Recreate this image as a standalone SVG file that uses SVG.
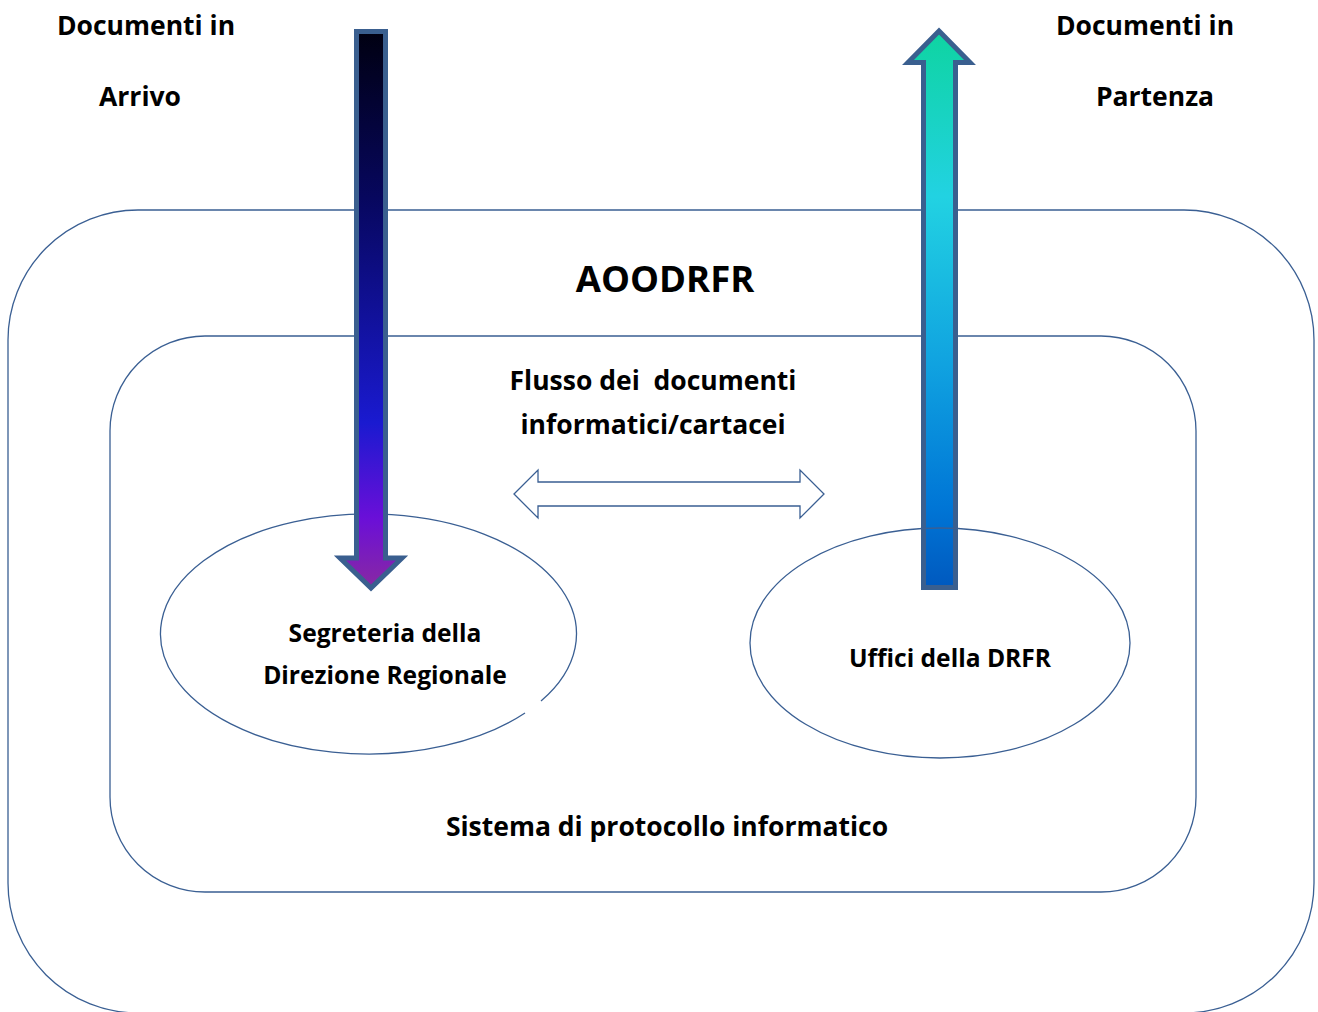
<svg xmlns="http://www.w3.org/2000/svg" width="1318" height="1012" viewBox="0 0 1318 1012">
<style>
.ln{fill:none;stroke:#3A5F93;stroke-width:1.3}
.arw{stroke:#3A5F8F;stroke-width:5;stroke-linejoin:miter}
text{font-family:"Open Sans","DejaVu Sans",sans-serif;font-weight:bold;fill:#000;text-anchor:middle;white-space:pre}
.t{font-size:26.5px}
.s{font-size:24.6px}
.big{font-size:36.5px}
</style>
<defs>
<linearGradient id="gDown" x1="0" y1="29" x2="0" y2="591" gradientUnits="userSpaceOnUse">
<stop offset="0" stop-color="#000010"/>
<stop offset="0.3" stop-color="#07075e"/>
<stop offset="0.7" stop-color="#1a1ad0"/>
<stop offset="0.87" stop-color="#6a0fd8"/>
<stop offset="1" stop-color="#8a2aa0"/>
</linearGradient>
<linearGradient id="gUp" x1="0" y1="28" x2="0" y2="590" gradientUnits="userSpaceOnUse">
<stop offset="0" stop-color="#0ed4a0"/>
<stop offset="0.3" stop-color="#22d2e2"/>
<stop offset="0.6" stop-color="#10a2e0"/>
<stop offset="0.85" stop-color="#0076d6"/>
<stop offset="1" stop-color="#0058be"/>
</linearGradient>
</defs>
<g id="aoo">
<rect class="ln" x="8" y="210" width="1306" height="803" rx="130" ry="130"/>
<text class="big" x="665" y="292">AOODRFR</text>
</g>
<g id="sistema">
<rect class="ln" x="110" y="336" width="1086" height="556" rx="95" ry="95"/>
<text class="t" x="667" y="836">Sistema di protocollo informatico</text>
</g>
<g id="segreteria">
<path class="ln" d="M541 701 A208 120 0 1 0 525 713"/>
<text class="s" x="385" y="642">Segreteria della</text>
<text class="s" x="385" y="684">Direzione Regionale</text>
</g>
<g id="connectors">
<path class="arw" fill="url(#gDown)" d="M356.5 31.5 H385.5 V558 H402 L371 588 L340 558 H356.5 Z"/>
<path class="arw" fill="url(#gUp)" d="M939 31 L970 62.5 H955.5 V587.5 H923.5 V62.5 H908 Z"/>
<path class="ln" d="M514 494 L538 470 V482 H800 V470 L824 494 L800 518 V506 H538 V518 Z"/>
</g>
<g id="uffici">
<ellipse class="ln" cx="940" cy="643" rx="190" ry="115"/>
<text class="s" x="950" y="667">Uffici della DRFR</text>
</g>
<g id="flusso">
<text class="t" x="653" y="390" xml:space="preserve">Flusso dei  documenti</text>
<text class="t" x="653" y="434">informatici/cartacei</text>
</g>
<g id="arrivo">
<text class="t" x="146" y="35">Documenti in</text>
<text class="t" x="140" y="106">Arrivo</text>
</g>
<g id="partenza">
<text class="t" x="1145" y="35">Documenti in</text>
<text class="t" x="1155" y="106">Partenza</text>
</g>
</svg>
